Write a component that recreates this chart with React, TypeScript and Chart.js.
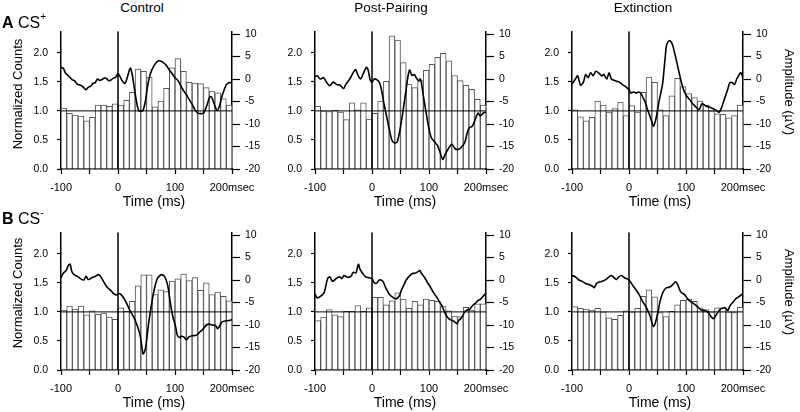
import React, { useEffect, useRef } from 'react';
import { Chart, registerables } from 'chart.js';

Chart.register(...registerables);

const FONT = '"Liberation Sans", Arial, Helvetica, sans-serif';

// 10-ms bins from -100 to 200 ms (bin centres)
const BIN_CENTERS = [-95, -85, -75, -65, -55, -45, -35, -25, -15, -5, 5, 15, 25, 35, 45, 55, 65, 75, 85, 95, 105, 115, 125, 135, 145, 155, 165, 175, 185, 195];

// Normalized counts (left axis)
const CONTROL_CSPLUS_COUNTS = [1.05, 0.96, 0.93, 0.91, 0.83, 0.89, 1.10, 1.10, 1.08, 1.12, 1.10, 1.18, 1.32, 1.72, 1.68, 1.58, 1.07, 1.17, 1.39, 1.74, 1.90, 1.68, 1.49, 1.48, 1.47, 1.40, 1.34, 1.31, 1.21, 1.10];
const POSTPAIRING_CSPLUS_COUNTS = [1.08, 1.00, 0.99, 1.01, 0.98, 0.85, 1.14, 1.02, 1.14, 0.86, 0.96, 1.17, 1.51, 2.29, 2.22, 1.83, 1.46, 1.40, 1.52, 1.70, 1.80, 1.92, 1.99, 1.86, 1.61, 1.52, 1.44, 1.37, 1.20, 1.10];
const EXTINCTION_CSPLUS_COUNTS = [1.02, 0.90, 0.83, 0.89, 1.17, 1.10, 0.98, 1.04, 1.15, 0.92, 1.09, 0.98, 1.32, 1.58, 1.49, 1.02, 0.92, 1.26, 1.56, 1.42, 1.30, 1.23, 1.17, 1.10, 1.00, 0.95, 0.94, 0.88, 0.92, 1.10];
const CONTROL_CSMINUS_COUNTS = [1.03, 1.10, 1.05, 1.10, 0.95, 1.02, 0.96, 0.98, 0.91, 0.87, 1.07, 1.01, 1.18, 1.45, 1.64, 1.64, 1.30, 1.38, 1.35, 1.53, 1.57, 1.65, 1.54, 1.59, 1.37, 1.50, 1.30, 1.34, 1.27, 1.19];
const POSTPAIRING_CSMINUS_COUNTS = [0.85, 0.91, 1.04, 0.95, 0.92, 1.01, 1.01, 1.11, 1.01, 1.07, 1.25, 1.25, 1.12, 1.19, 1.33, 1.22, 1.06, 1.18, 1.12, 1.22, 1.20, 1.18, 1.10, 1.02, 0.93, 0.92, 1.08, 1.03, 1.14, 1.14];
const EXTINCTION_CSMINUS_COUNTS = [1.09, 1.06, 1.05, 1.03, 1.06, 1.00, 0.90, 0.87, 0.94, 1.02, 1.00, 1.06, 1.27, 1.38, 1.26, 0.99, 0.92, 1.01, 1.12, 1.20, 1.22, 1.18, 1.07, 1.04, 1.00, 1.07, 1.07, 1.00, 0.99, 1.08];

// Field potential traces (right axis, µV)
const CONTROL_CSPLUS_TIME = [-100, -96, -92, -88, -84, -80, -76, -72, -68, -64, -60, -56, -52, -48, -44, -40, -36, -32, -28, -24, -20, -16, -12, -8, -4, 0, 4, 8, 12, 16, 20, 22, 25, 28, 32, 36, 40, 44, 48, 52, 56, 60, 65, 70, 75, 80, 85, 90, 95, 100, 105, 110, 115, 120, 125, 130, 135, 140, 145, 150, 155, 160, 163, 166, 170, 174, 178, 182, 186, 190, 195, 200];
const CONTROL_CSPLUS_AMP = [2.6, 2.4, 1.3, 0.8, 0.3, -0.2, -0.4, -1.1, -1.3, -1.5, -1.9, -2.4, -1.8, -1.6, -1.0, -0.8, 0.0, -0.3, -0.1, 0.2, 0.1, -0.4, -0.2, 0.2, 0.4, 1.2, 0.4, -0.5, -1.0, 0.2, 2.0, 2.4, 1.0, -1.5, -4.7, -6.9, -7.2, -6.9, -5.0, -1.5, 0.8, 2.2, 3.3, 4.0, 4.0, 3.6, 3.0, 2.0, 1.2, 0.3, -0.3, -1.5, -2.6, -3.5, -4.6, -5.6, -6.8, -7.6, -7.7, -7.6, -6.2, -4.3, -3.9, -4.5, -6.0, -7.0, -6.0, -4.0, -2.5, -1.3, -0.8, -0.9];

const POSTPAIRING_CSPLUS_TIME = [-100, -96, -91, -85, -80, -74, -68, -62, -56, -50, -46, -42, -39, -33, -29, -24, -20, -16, -10, -7, -3, 0, 4, 9, 13, 16, 21, 26, 30, 35, 40, 44, 48, 53, 59, 63, 66, 70, 74, 78, 82, 85, 88, 91, 95, 99, 104, 110, 115, 120, 124, 128, 134, 140, 146, 152, 158, 163, 167, 171, 176, 181, 186, 190, 195, 200];
const POSTPAIRING_CSPLUS_AMP = [0.5, 0.7, 0.0, 0.3, -0.7, -1.5, -0.7, -1.2, -1.4, -2.1, -1.2, -0.5, 0.0, 1.4, 2.1, 0.7, 0.0, 1.0, 2.6, 2.1, -0.3, -0.7, 0.0, -0.2, -0.8, -2.0, -5.5, -8.5, -11.0, -13.6, -14.2, -14.0, -12.0, -8.3, -3.1, 0.5, 2.0, 0.8, 1.0, 0.2, -0.4, 0.0, -2.0, -4.5, -7.5, -10.5, -13.0, -14.0, -14.8, -16.5, -17.9, -16.8, -15.5, -14.5, -15.5, -15.6, -15.0, -14.0, -12.0, -10.8, -10.5, -9.0, -7.6, -8.2, -7.6, -7.3];

const EXTINCTION_CSPLUS_TIME = [-100, -94, -90, -85, -80, -76, -72, -67, -63, -58, -52, -48, -44, -39, -35, -31, -26, -22, -17, -12, -6, 0, 3, 8, 13, 17, 21, 24, 28, 32, 36, 40, 43, 47, 50, 53, 56, 59, 62, 64, 66, 70, 73, 77, 80, 83, 88, 94, 100, 106, 112, 118, 123, 128, 135, 142, 148, 153, 158, 162, 166, 170, 173, 177, 181, 185, 189, 193, 196, 200];
const EXTINCTION_CSPLUS_AMP = [-1.2, 0.0, 0.7, -1.4, -0.7, 1.0, 0.3, 1.4, 0.7, 1.7, 1.2, 0.7, 1.0, 0.0, 1.4, 0.0, -0.3, -0.5, -0.7, -1.2, -1.7, -2.4, -3.1, -2.9, -3.1, -2.9, -3.2, -4.0, -5.0, -6.6, -8.0, -9.5, -10.5, -9.0, -7.0, -4.8, -3.0, -1.0, 2.8, 5.5, 7.6, 8.5, 8.4, 7.4, 5.8, 4.2, 1.4, -1.7, -3.6, -4.5, -5.5, -6.3, -6.8, -5.5, -6.0, -6.3, -6.6, -7.0, -7.4, -6.5, -5.0, -3.5, -2.4, -0.8, -0.8, -1.2, 0.0, 0.9, 1.4, 0.3];

const CONTROL_CSMINUS_TIME = [-100, -96, -91, -87, -84, -81, -77, -71, -66, -60, -56, -52, -46, -40, -34, -30, -25, -19, -13, -8, -2, 1, 5, 10, 16, 21, 27, 33, 39, 44, 48, 54, 60, 64, 68, 72, 77, 82, 87, 92, 96, 101, 104, 108, 111, 116, 120, 124, 130, 137, 144, 150, 155, 160, 165, 171, 175, 182, 188, 194, 200];
const CONTROL_CSMINUS_AMP = [0.5, 1.5, 2.1, 3.3, 3.5, 1.9, 1.2, 0.8, 0.3, 0.0, 0.8, 0.1, 0.5, 0.8, 1.2, 0.7, -0.4, -1.6, -2.3, -3.0, -3.3, -3.0, -3.2, -4.0, -5.4, -6.8, -8.1, -9.9, -12.4, -16.4, -15.3, -9.4, -4.5, -1.9, 0.0, 0.8, 1.2, 0.7, -1.1, -5.2, -8.0, -10.3, -12.2, -12.8, -12.5, -12.7, -13.3, -12.7, -12.4, -12.3, -11.5, -10.8, -10.0, -9.8, -10.0, -10.1, -10.8, -9.4, -9.1, -9.0, -8.8];

const POSTPAIRING_CSMINUS_TIME = [-100, -96, -90, -84, -78, -74, -69, -63, -57, -53, -49, -43, -37, -33, -28, -24, -21, -16, -11, -5, 0, 4, 8, 13, 19, 24, 30, 36, 42, 48, 52, 57, 60, 65, 70, 75, 80, 84, 86, 92, 97, 102, 108, 113, 118, 123, 128, 132, 137, 141, 145, 149, 152, 155, 159, 163, 168, 172, 177, 181, 186, 190, 195, 200];
const POSTPAIRING_CSMINUS_AMP = [-3.1, -4.0, -3.6, -2.8, 0.3, 0.7, -0.3, 0.3, 0.7, 0.3, 1.0, 0.6, 0.8, 1.7, 1.6, 3.5, 2.4, 1.4, 0.7, 0.5, 0.3, -0.6, -0.7, 0.0, -0.3, -1.7, -3.1, -3.8, -4.2, -3.5, -2.1, -0.8, 0.0, 0.8, 1.4, 1.5, 1.8, 2.1, 1.6, 0.6, -0.5, -1.5, -2.8, -3.7, -4.8, -5.8, -7.3, -8.2, -8.8, -9.0, -9.3, -9.7, -9.0, -8.7, -8.0, -7.0, -6.6, -6.4, -5.6, -5.2, -4.6, -4.3, -3.6, -2.9];

const EXTINCTION_CSMINUS_TIME = [-100, -94, -88, -82, -76, -70, -64, -61, -57, -53, -47, -41, -35, -31, -26, -22, -18, -13, -8, 0, 6, 12, 18, 24, 29, 33, 37, 40, 43, 47, 51, 54, 58, 62, 66, 71, 77, 82, 86, 91, 97, 103, 108, 114, 120, 126, 132, 138, 143, 148, 151, 155, 160, 165, 169, 173, 177, 182, 188, 194, 200];
const EXTINCTION_CSMINUS_AMP = [1.0, 0.7, 0.0, -0.3, -0.8, -1.0, -1.4, -1.7, -0.8, -0.5, -0.3, 0.1, 0.7, 1.0, 0.5, 0.1, 0.7, 1.0, 0.5, 0.0, -1.1, -2.1, -3.3, -4.8, -5.8, -6.8, -8.0, -9.4, -10.3, -9.2, -7.0, -5.0, -3.2, -2.2, -1.7, -1.6, -1.0, -0.4, -1.2, -2.7, -3.2, -4.2, -4.8, -5.3, -5.9, -6.6, -6.8, -7.1, -8.0, -8.6, -8.2, -7.3, -6.5, -6.2, -6.2, -6.8, -5.8, -5.0, -4.1, -3.6, -3.0];

// Axis ranges and ticks
const TIME_MIN = -100;
const TIME_MAX = 200;
const COUNT_MAX = 2.37;
const COUNT_TICKS = [0, 0.5, 1.0, 1.5, 2.0];
const AMP_MIN = -20;
const AMP_MAX = 10.6;
const AMP_TICKS = [-20, -15, -10, -5, 0, 5, 10];
const BASELINE = 1.0;
const ONSET = 0;

// Layout (pixels)
const PAD_L = 45;
const PAD_R = 40;
const PAD_T = 4;
const PAD_B = 30;
const PLOT_W = 171;
const PLOT_H = 149;
const COL_LEFT = [61, 315, 572];
const ROW_TOP = [20, 221];

type PanelProps = { left: number; top: number; counts: number[]; times: number[]; amps: number[] };

function Panel({ left, top, counts, times, amps }: PanelProps) {
  const ref = useRef<HTMLCanvasElement | null>(null);
  const cw = PAD_L + PLOT_W + PAD_R;
  const ch = PAD_T + PLOT_H + PAD_B;

  useEffect(() => {
    if (!ref.current) return;
    const chart = new Chart(ref.current, {
      type: 'bar',
      data: {
        datasets: [
          {
            type: 'line',
            data: times.map((t, i) => ({ x: t, y: amps[i] })),
            yAxisID: 'yR',
            xAxisID: 'x',
            borderColor: '#000',
            borderWidth: 1.6,
            pointRadius: 0,
            tension: 0.3,
            fill: false,
            order: 0,
          } as any,
          {
            type: 'line',
            data: [{ x: TIME_MIN, y: BASELINE }, { x: TIME_MAX, y: BASELINE }],
            yAxisID: 'yL',
            xAxisID: 'x',
            borderColor: '#000',
            borderWidth: 1,
            pointRadius: 0,
            fill: false,
            order: 1,
          } as any,
          {
            type: 'line',
            data: [{ x: ONSET, y: 0 }, { x: ONSET, y: COUNT_MAX }],
            yAxisID: 'yL',
            xAxisID: 'x',
            borderColor: '#000',
            borderWidth: 1.5,
            pointRadius: 0,
            fill: false,
            order: 2,
          } as any,
          {
            type: 'bar',
            data: BIN_CENTERS.map((c, i) => ({ x: c, y: counts[i] })),
            yAxisID: 'yL',
            xAxisID: 'x',
            backgroundColor: '#fff',
            borderColor: '#555',
            borderWidth: 1,
            borderSkipped: 'bottom',
            barPercentage: 1,
            categoryPercentage: 1,
            order: 3,
          } as any,
        ],
      },
      options: {
        responsive: false,
        animation: false,
        devicePixelRatio: 1,
        layout: { padding: { top: PAD_T, left: 0, right: 0, bottom: 0 } },
        plugins: { legend: { display: false }, tooltip: { enabled: false }, title: { display: false } },
        scales: {
          x: {
            type: 'linear',
            position: 'bottom',
            min: TIME_MIN,
            max: TIME_MAX,
            offset: false,
            grid: { display: true, drawOnChartArea: false, drawTicks: true, tickLength: 5, color: '#000', tickWidth: 1.2, offset: false },
            border: { display: true, color: '#000', width: 1.5 },
            ticks: {
              stepSize: 50,
              autoSkip: false,
              maxRotation: 0,
              minRotation: 0,
              padding: 7,
              color: '#000',
              font: { family: FONT, size: 11 },
              callback: (v: any) => {
                const n = Number(v);
                if (n % 100 !== 0) return '';
                return n === 200 ? '200msec' : String(n);
              },
            },
            afterFit: (s: any) => { s.height = PAD_B; },
          },
          yL: {
            type: 'linear',
            position: 'left',
            min: 0,
            max: COUNT_MAX,
            grid: { display: true, drawOnChartArea: false, drawTicks: true, tickLength: 4, color: '#000', tickWidth: 1.2 },
            border: { display: true, color: '#000', width: 1.5 },
            afterBuildTicks: (s: any) => { s.ticks = COUNT_TICKS.map((v) => ({ value: v })); },
            ticks: {
              padding: 9,
              color: '#000',
              font: { family: FONT, size: 10.5 },
              callback: (v: any) => Number(v).toFixed(1),
            },
            afterFit: (s: any) => { s.width = PAD_L; },
          },
          yR: {
            type: 'linear',
            position: 'right',
            min: AMP_MIN,
            max: AMP_MAX,
            grid: { display: true, drawOnChartArea: false, drawTicks: true, tickLength: 8, color: '#000', tickWidth: 1.2 },
            border: { display: true, color: '#000', width: 1.5 },
            afterBuildTicks: (s: any) => { s.ticks = AMP_TICKS.map((v) => ({ value: v })); },
            ticks: {
              padding: 5,
              color: '#000',
              font: { family: FONT, size: 10.5 },
              callback: (v: any) => String(v),
            },
            afterFit: (s: any) => { s.width = PAD_R; },
          },
        },
      } as any,
    });
    return () => chart.destroy();
  }, []);

  return (
    <canvas
      ref={ref}
      width={cw}
      height={ch}
      style={{ position: 'absolute', left: left - PAD_L, top: top - PAD_T, width: cw, height: ch }}
    />
  );
}

const textBase: React.CSSProperties = {
  position: 'absolute',
  fontFamily: FONT,
  color: '#000',
  whiteSpace: 'nowrap',
  lineHeight: 1,
};

function Centered({ x, y, size, rotate, children }: { x: number; y: number; size: number; rotate?: number; children: React.ReactNode }) {
  return (
    <div
      style={{
        ...textBase,
        left: x,
        top: y,
        fontSize: size,
        transform: `translate(-50%, -50%)${rotate ? ` rotate(${rotate}deg)` : ''}`,
      }}
    >
      {children}
    </div>
  );
}

const COLUMN_TITLES = ['Control', 'Post-Pairing', 'Extinction'];
const TITLE_X = [142, 391, 643];
const TIME_LABEL_X = [154, 405, 660];
const TIME_LABEL_Y = [201, 402];

export default function App() {
  const panels = [
    [CONTROL_CSPLUS_COUNTS, CONTROL_CSPLUS_TIME, CONTROL_CSPLUS_AMP],
    [POSTPAIRING_CSPLUS_COUNTS, POSTPAIRING_CSPLUS_TIME, POSTPAIRING_CSPLUS_AMP],
    [EXTINCTION_CSPLUS_COUNTS, EXTINCTION_CSPLUS_TIME, EXTINCTION_CSPLUS_AMP],
    [CONTROL_CSMINUS_COUNTS, CONTROL_CSMINUS_TIME, CONTROL_CSMINUS_AMP],
    [POSTPAIRING_CSMINUS_COUNTS, POSTPAIRING_CSMINUS_TIME, POSTPAIRING_CSMINUS_AMP],
    [EXTINCTION_CSMINUS_COUNTS, EXTINCTION_CSMINUS_TIME, EXTINCTION_CSMINUS_AMP],
  ];
  return (
    <div style={{ position: 'fixed', left: 0, top: 0, width: 800, height: 412, background: '#fff', overflow: 'hidden' }}>
      {panels.map((p, i) => (
        <Panel
          key={i}
          left={COL_LEFT[i % 3]}
          top={ROW_TOP[Math.floor(i / 3)]}
          counts={p[0]}
          times={p[1]}
          amps={p[2]}
        />
      ))}
      {COLUMN_TITLES.map((t, i) => (
        <Centered key={t} x={TITLE_X[i]} y={8} size={13.5}>{t}</Centered>
      ))}
      {[0, 1].map((r) =>
        [0, 1, 2].map((c) => (
          <Centered key={`t${r}${c}`} x={TIME_LABEL_X[c]} y={TIME_LABEL_Y[r]} size={14}>Time (ms)</Centered>
        ))
      )}
      <Centered x={16.5} y={94} size={13} rotate={-90}>Normalized Counts</Centered>
      <Centered x={16.5} y={293} size={13} rotate={-90}>Normalized Counts</Centered>
      <Centered x={789} y={92} size={13} rotate={90}>Amplitude (µV)</Centered>
      <Centered x={789} y={292} size={13} rotate={90}>Amplitude (µV)</Centered>
      <div style={{ ...textBase, left: 2, top: 15, fontSize: 16 }}>
        <b>A</b> CS<sup style={{ fontSize: 10, verticalAlign: 'top', position: 'relative', top: -3 }}>+</sup>
      </div>
      <div style={{ ...textBase, left: 2, top: 211, fontSize: 16 }}>
        <b>B</b> CS<sup style={{ fontSize: 10, verticalAlign: 'top', position: 'relative', top: -3 }}>-</sup>
      </div>
    </div>
  );
}
